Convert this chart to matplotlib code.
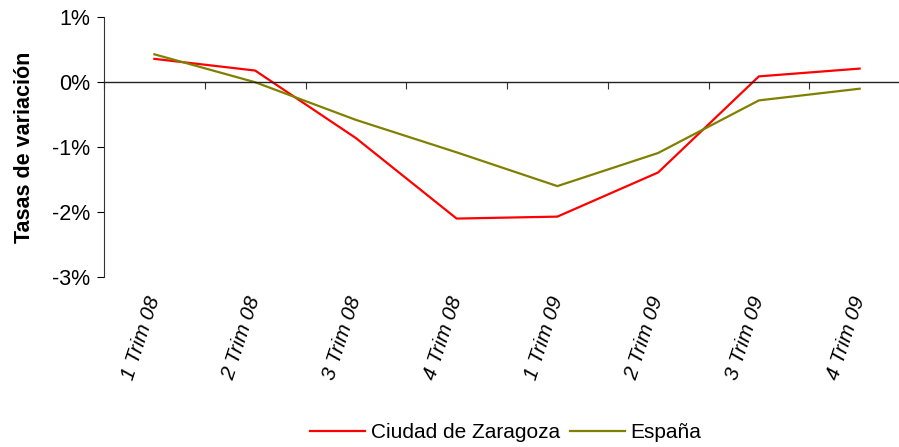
import matplotlib
matplotlib.use("Agg")
import matplotlib.pyplot as plt
import numpy as np
from matplotlib.ticker import FuncFormatter, FixedLocator

plt.rcParams['font.family'] = ['Liberation Sans', 'DejaVu Sans']

categories = ["1 Trim 08", "2 Trim 08", "3 Trim 08", "4 Trim 08",
              "1 Trim 09", "2 Trim 09", "3 Trim 09", "4 Trim 09"]
zaragoza = [0.36, 0.18, -0.86, -2.10, -2.07, -1.39, 0.09, 0.21]
espana = [0.43, 0.00, -0.58, -1.08, -1.60, -1.09, -0.28, -0.10]
yticks = [1, 0, -1, -2, -3]

fig = plt.figure(figsize=(8.99, 4.47), dpi=100)
ax = fig.add_axes([104/899, 1-277/447, 806/899, (277-17.3)/447])

x = np.arange(len(categories))
l1, = ax.plot(x, zaragoza, color='#FF0000', lw=1.6, label='Ciudad de Zaragoza')
l2, = ax.plot(x, espana, color='#808000', lw=1.6, label='España')

ax.set_xlim(-0.5, len(categories) - 0.5)
ax.set_ylim(-3, 1)
ax.set_yticks(yticks)
ax.yaxis.set_major_formatter(FuncFormatter(lambda v, p: f"{int(round(v))}%"))
ax.tick_params(axis='y', direction='out', length=5, width=0.8, labelsize=15.5, pad=5)

for s in ['top', 'right']:
    ax.spines[s].set_visible(False)
ax.spines['left'].set_color('#333333')
ax.spines['bottom'].set_position(('data', 0))
ax.spines['bottom'].set_color('#222222')
ax.spines['bottom'].set_linewidth(1.0)

ax.xaxis.set_major_locator(FixedLocator(np.arange(len(categories) + 1) - 0.5))
ax.tick_params(axis='x', direction='out', length=5, width=0.8, color='#333333', labelbottom=False)

sec = ax.secondary_xaxis('bottom')
sec.set_xticks(x, categories, rotation=72, ha='right', va='center',
               rotation_mode='anchor', fontsize=15, style='italic')
sec.spines['bottom'].set_visible(False)
sec.tick_params(axis='x', length=0, pad=14)

ax.set_ylabel('Tasas de variación', fontsize=15.5, fontweight='bold')
ax.yaxis.set_label_coords(-0.0856, 0.5)

fig.legend(handles=[l1, l2], loc='center', bbox_to_anchor=(506/899, 1-433/447),
           ncol=2, frameon=False, fontsize=15, handlelength=2.6,
           handletextpad=0.3, columnspacing=0.5)

fig.savefig('out.png', dpi=100)
